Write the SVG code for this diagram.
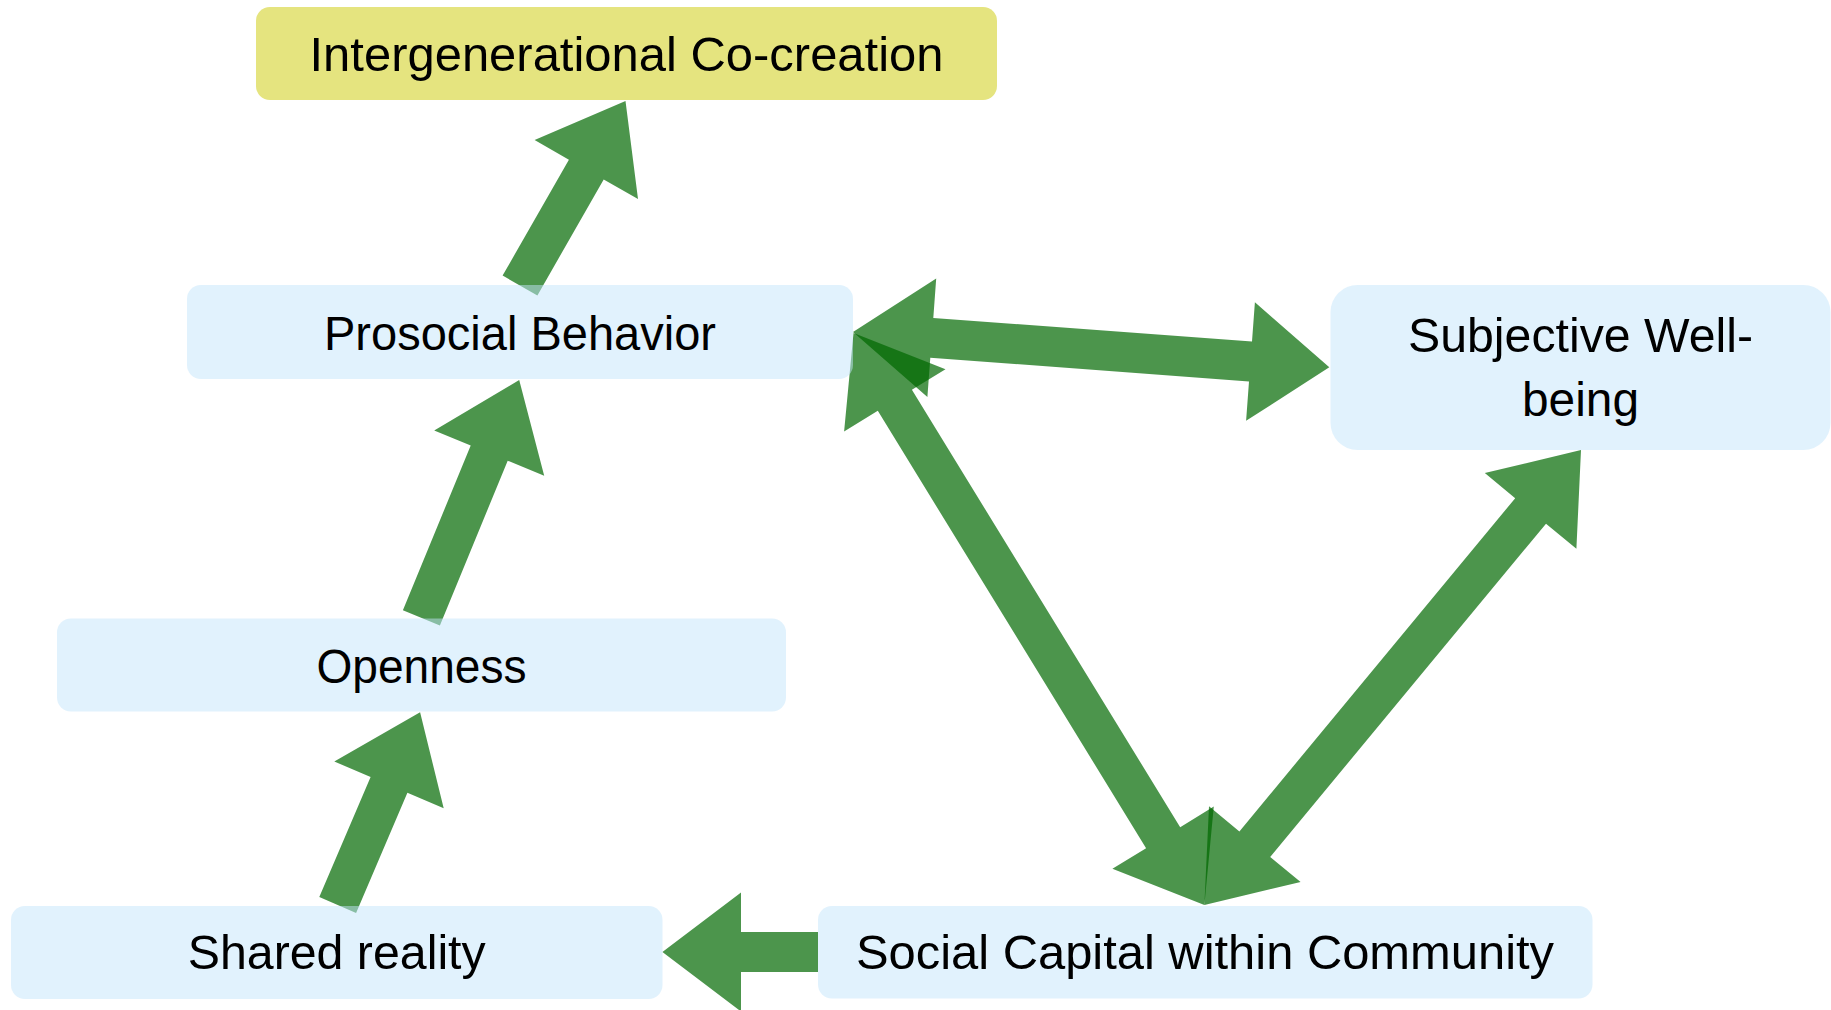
<svg xmlns="http://www.w3.org/2000/svg" width="1831" height="1010" viewBox="0 0 1831 1010">
  <style>
    .arrow { fill: #006800; fill-opacity: 0.7; stroke: none; }
    .box { fill: #C3E5FB; fill-opacity: 0.5; stroke: none; }
    .box-key { fill: #E5E47F; stroke: none; }
    .label { font-family: "Liberation Sans", Arial, sans-serif; font-size: 48px; fill: #000; text-anchor: middle; }
  </style>
  <rect x="0" y="0" width="1831" height="1010" fill="#FFFFFF"/>

  <!-- block arrows: shaft 40, head 119 wide x 79 long -->
  <g id="connectors">
    <polygon id="prosocial-to-cocreation" class="arrow" points="502.6,275.6 568.9,159.7 534.6,140.1 625.5,101 638.0,199.1 603.7,179.5 537.4,295.4"/>
    <polygon id="openness-to-prosocial" class="arrow" points="402.9,610.3 470.7,445.5 434.2,430.5 519.2,380 544.2,475.7 507.7,460.7 439.9,625.5"/>
    <polygon id="shared-to-openness" class="arrow" points="319.3,897.1 370.6,777.0 334.3,761.5 420.1,712.3 443.7,808.3 407.4,792.8 356.1,912.9"/>
    <polygon id="capital-to-shared" class="arrow" points="818,932 741,932 741,892.5 662.4,952 741,1011.5 741,972 818,972"/>
    <polygon id="prosocial-wellbeing" class="arrow" points="853,332 936.2,278.5 933.3,317.9 1252.0,341.6 1254.9,302.2 1329.3,367.3 1246.1,420.8 1249.0,381.4 930.3,357.7 927.4,397.1"/>
    <polygon id="prosocial-capital" class="arrow" points="853.5,333 945.5,369.2 911.9,389.8 1180.2,827.2 1213.8,806.6 1204.4,905 1112.4,868.8 1146.1,848.2 877.8,410.8 844.1,431.4"/>
    <polygon id="capital-wellbeing" class="arrow" points="1204.4,905 1300.6,882.0 1270.2,856.9 1546.0,523.7 1576.4,548.8 1581,450 1484.8,473.0 1515.2,498.2 1239.4,831.4 1209.0,806.2"/>
  </g>

  <g id="node-cocreation">
    <rect class="box-key" x="256" y="7" width="741" height="93" rx="14" ry="14"/>
    <text class="label" x="626.5" y="71" textLength="634" lengthAdjust="spacingAndGlyphs">Intergenerational Co-creation</text>
  </g>

  <g id="node-prosocial">
    <rect class="box" x="187" y="285" width="666" height="94" rx="14" ry="14"/>
    <text class="label" x="520" y="350" textLength="392" lengthAdjust="spacingAndGlyphs">Prosocial Behavior</text>
  </g>

  <g id="node-wellbeing">
    <rect class="box" x="1330.5" y="285" width="500" height="165" rx="27" ry="27"/>
    <text class="label" x="1580.5" y="351.7" textLength="345" lengthAdjust="spacingAndGlyphs">Subjective Well-</text>
    <text class="label" x="1580.5" y="416" textLength="117" lengthAdjust="spacingAndGlyphs">being</text>
  </g>

  <g id="node-openness">
    <rect class="box" x="57" y="618.5" width="729" height="93" rx="14" ry="14"/>
    <text class="label" x="421.5" y="682.7" textLength="210" lengthAdjust="spacingAndGlyphs">Openness</text>
  </g>

  <g id="node-shared">
    <rect class="box" x="11" y="906" width="651.5" height="93" rx="14" ry="14"/>
    <text class="label" x="336.7" y="969.3" textLength="298" lengthAdjust="spacingAndGlyphs">Shared reality</text>
  </g>

  <g id="node-capital">
    <rect class="box" x="818" y="906" width="774.5" height="92.5" rx="14" ry="14"/>
    <text class="label" x="1205" y="969.3" textLength="698" lengthAdjust="spacingAndGlyphs">Social Capital within Community</text>
  </g>
</svg>
